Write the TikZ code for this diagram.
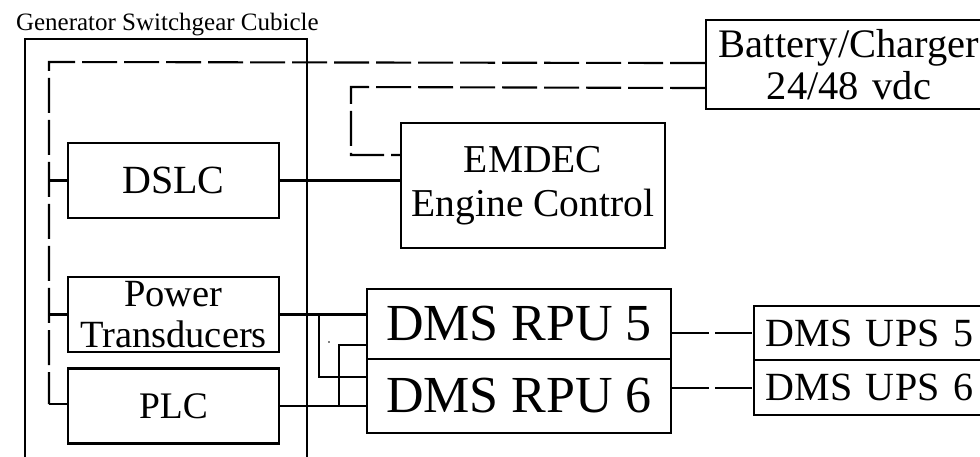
\documentclass[tikz,border=0pt]{standalone}
\usepackage{fontspec}
\setmainfont{Liberation Serif}
\begin{document}
\begin{tikzpicture}[x=1pt,y=-1pt,line width=2.1pt,
  box/.style={draw,line width=2.1pt,inner sep=0pt,align=center},
  dsh/.style={dash pattern=on 35pt off 7pt},
  dshb/.style={dash pattern=on 37pt off 6pt},
  ftitle/.style={font=\fontsize{25}{28}\selectfont},
  fmid/.style={font=\fontsize{39.5}{44}\selectfont},
  fdslc/.style={font=\fontsize{40}{44}\selectfont},
  fplc/.style={font=\fontsize{37.5}{44}\selectfont},
  fpt/.style={font=\fontsize{38.5}{41}\selectfont},
  fbat/.style={font=\fontsize{40.5}{42}\selectfont},
  fbig/.style={font=\fontsize{52}{56}\selectfont},
  fups/.style={font=\fontsize{40}{44}\selectfont\addfontfeature{LetterSpace=1}}]
\useasboundingbox (0,0) rectangle (980,457);
\clip (0,0) rectangle (980,457);

% title and cubicle
\node[ftitle,anchor=base west,inner sep=0pt] (title) at (15,31) {Generator Switchgear Cubicle};
\draw (25,457) -- (25,39) -- (307,39) -- (307,457);

% boxes
\node[box,fdslc,minimum width=211pt,minimum height=75pt] (dslc) at (173.5,180.5) {DSLC};
\node[box,fpt,minimum width=211pt,minimum height=75pt] (pt) at (173.5,314.5) {Power\\Transducers};
\node[box,fplc,minimum width=211pt,minimum height=75pt] (plc) at (173.5,406) {PLC};
\node[box,fmid,minimum width=264pt,minimum height=125pt] (emdec) at (533,185.5) {EMDEC\\Engine Control};
\node[box,fbat,anchor=north west,text width=286pt,minimum height=89pt] (batt) at (705,19) {Battery/Charger\\24/48 vdc};
\node[box,fbig,minimum width=304pt,minimum height=70pt] (rpu5) at (519,324) {DMS RPU 5};
\node[box,fbig,minimum width=304pt,minimum height=74pt] (rpu6) at (519,396) {DMS RPU 6};
\node[box,fups,anchor=north west,inner xsep=11pt,text width=240pt,align=left,minimum height=54pt] (ups5) at (753,305) {DMS UPS 5};
\node[box,fups,anchor=north west,inner xsep=11pt,text width=240pt,align=left,minimum height=55pt] (ups6) at (753,359) {DMS UPS 6};

% dashed supply bus
\coordinate (busT) at (49,62);
\coordinate (busB) at (49,404);
\draw[dsh] ([yshift=1.5pt]batt.west) -- (busT) -- (busB);
\draw (busB) -- (busB -| plc.west);
\draw (busT |- dslc.west) -- (dslc.west);
\draw (busT |- pt.west) -- (pt.west);

\coordinate (eA) at (351,87);
\coordinate (eB) at (351,155);
\draw[dsh] ([yshift=-23.5pt]batt.west) -- (eA) -- (eB) -- (eB -| emdec.west);

% signal lines
\draw (dslc.east) -- (dslc.east -| emdec.west);
\coordinate (v1) at (319,377);
\coordinate (v2) at (339,345);
\draw (pt.east) -- (pt.east -| rpu5.west);
\draw (pt.east -| v1) -- (v1) -- (v1 -| rpu6.west);
\draw (plc.east) -- (plc.east -| rpu6.west);
\draw (plc.east -| v2) -- (v2) -- (v2 -| rpu5.west);
\fill (329,342) circle (0.9pt);

\draw[dshb] (ups5.west -| rpu5.east) -- (ups5.west);
\draw[dshb] (ups6.west -| rpu6.east) -- (ups6.west);
\end{tikzpicture}
\end{document}
